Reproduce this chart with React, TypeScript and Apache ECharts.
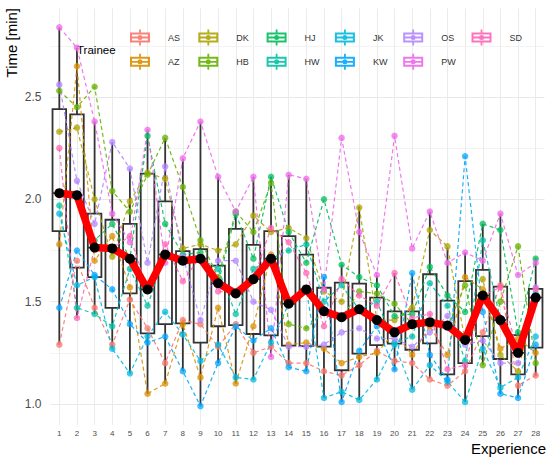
import React, { useEffect, useRef } from 'react';
import * as echarts from 'echarts';

const categories = ['1','2','3','4','5','6','7','8','9','10','11','12','13','14','15','16','17','18','19','20','21','22','23','24','25','26','27','28'];

const trainees = ['AS','AZ','DK','HB','HJ','HW','JK','KW','OS','PW','SD'];
const traineeColors = ['#F8766D','#DB8E00','#AEA200','#64B200','#00BD5C','#00C1A7','#00BADE','#00A6FF','#B385FF','#EF67EB','#FF63B6'];

const AS = [1.29,1.70,1.47,1.29,1.51,1.37,1.20,1.41,1.39,1.28,1.39,1.25,1.28,1.20,1.20,1.16,1.14,1.19,1.26,1.21,1.20,1.12,1.09,1.16,1.35,1.58,1.09,1.14];
const AZ = [1.78,2.65,1.70,1.82,1.57,1.05,1.10,1.39,1.13,1.47,1.10,1.38,1.73,1.29,1.30,1.27,1.20,1.23,1.25,1.35,1.24,1.38,1.24,1.62,1.56,1.27,1.32,1.25];
const DK = [2.33,2.35,2.00,1.72,1.99,2.13,2.10,1.76,1.78,1.75,1.78,1.92,1.84,1.86,1.81,1.55,1.50,1.96,1.41,1.41,1.47,1.85,1.77,1.31,1.61,1.24,1.16,1.52];
const HB = [2.53,2.45,2.55,2.04,1.94,2.12,2.30,2.06,1.80,1.62,1.94,1.84,2.08,1.39,1.37,1.45,1.42,1.55,1.54,1.49,1.39,1.40,1.38,1.58,1.19,1.50,1.77,1.20];
const HJ = [2.03,2.02,1.80,1.88,1.71,2.31,1.88,1.73,1.74,1.59,1.93,1.71,2.11,1.84,1.69,2.00,1.68,1.62,1.58,1.43,1.44,1.67,1.53,1.45,1.88,1.85,1.35,1.71];
const HW = [1.97,1.47,1.44,1.38,1.66,1.48,1.73,1.70,1.71,1.66,1.44,1.66,1.71,1.75,1.78,1.50,1.58,1.46,1.50,1.30,1.33,1.59,1.48,1.21,1.80,1.41,1.29,1.54];
const JK = [1.93,1.58,1.62,1.27,1.15,1.33,1.45,1.34,1.21,1.29,1.13,1.12,1.30,1.49,1.56,1.03,1.06,1.02,1.12,1.29,1.07,1.19,1.11,1.01,1.27,1.08,1.13,1.33];
const KW = [1.47,1.75,1.63,1.56,1.39,1.30,1.33,1.16,0.99,1.20,1.38,1.31,1.37,1.18,1.16,1.62,1.01,1.26,1.38,1.17,1.64,1.24,1.12,2.21,1.45,1.05,1.03,1.29];
const OS = [2.56,2.09,1.88,2.28,2.15,1.69,2.16,1.72,1.41,1.70,1.70,1.50,1.46,1.28,1.28,1.29,1.35,1.37,1.32,1.32,1.28,1.35,1.43,1.29,1.31,1.20,1.20,1.57];
const PW = [2.84,2.74,2.38,1.93,1.79,2.34,1.69,2.20,2.38,2.11,1.94,2.11,1.23,2.12,2.10,1.56,2.30,1.84,1.63,2.31,1.76,1.94,1.69,1.74,1.70,1.93,1.63,1.69];
const SD = [2.25,1.42,1.76,1.76,1.82,1.56,1.78,1.60,1.72,1.55,1.54,1.61,1.86,1.79,1.64,1.38,1.61,1.53,1.48,1.64,1.42,1.44,1.17,1.19,1.53,1.57,1.25,1.56];

const traineeValues = [AS, AZ, DK, HB, HJ, HW, JK, KW, OS, PW, SD];

const whiskerLow = [1.29,1.42,1.44,1.27,1.15,1.05,1.10,1.16,0.99,1.20,1.10,1.12,1.23,1.19,1.16,1.03,1.01,1.02,1.12,1.165,1.073,1.125,1.09,1.01,1.19,1.05,1.03,1.137];
const boxQ1 = [1.845,1.666,1.62,1.47,1.54,1.345,1.39,1.394,1.30,1.38,1.385,1.342,1.335,1.285,1.283,1.28,1.165,1.246,1.288,1.295,1.265,1.296,1.145,1.20,1.332,1.22,1.145,1.275];
const medians = [2.03,2.02,1.764,1.76,1.71,1.56,1.73,1.70,1.71,1.59,1.54,1.61,1.71,1.49,1.56,1.453,1.424,1.463,1.41,1.35,1.39,1.40,1.383,1.313,1.53,1.41,1.25,1.52];
const boxQ3 = [2.44,2.415,1.93,1.90,1.88,2.125,1.99,1.747,1.757,1.676,1.856,1.777,1.845,1.82,1.73,1.568,1.593,1.588,1.52,1.453,1.453,1.634,1.505,1.60,1.655,1.573,1.337,1.562];
const whiskerHigh = [2.84,2.74,2.38,2.28,2.147,2.34,2.30,2.197,2.38,2.11,1.94,2.11,2.11,2.12,2.10,1.62,1.68,1.964,1.627,1.64,1.64,1.94,1.765,1.74,1.88,1.93,1.35,1.713];

const FONT = '"Liberation Sans", Arial, Helvetica, sans-serif';
const BOX_ICON = 'path://M0 3H20V13H0Z M2 5V11H18V5Z M2 7.1H18V8.9H2Z M9.1 0H10.9V3H9.1Z M9.1 13H10.9V16H9.1Z M7.5 8A2.5 2.5 0 1 1 12.5 8A2.5 2.5 0 1 1 7.5 8Z';

function buildOption() {
  const boxData = categories.map((_, i) => [i, whiskerLow[i], boxQ1[i], medians[i], boxQ3[i], whiskerHigh[i]]);

  const boxSeries = {
    type: 'custom',
    name: 'box',
    silent: true,
    z: 2,
    data: boxData,
    encode: { x: 0, y: [1, 2, 3, 4, 5] },
    renderItem: (params: any, api: any) => {
      const i = api.value(0);
      const lo = api.coord([i, api.value(1)]);
      const q1 = api.coord([i, api.value(2)]);
      const md = api.coord([i, api.value(3)]);
      const q3 = api.coord([i, api.value(4)]);
      const hi = api.coord([i, api.value(5)]);
      const bw = api.size([1, 0])[0] * 0.77;
      const x = lo[0];
      const st = { stroke: '#333333', lineWidth: 1.8, fill: 'none' };
      return {
        type: 'group',
        children: [
          { type: 'line', shape: { x1: x, y1: hi[1], x2: x, y2: q3[1] }, style: st },
          { type: 'line', shape: { x1: x, y1: q1[1], x2: x, y2: lo[1] }, style: st },
          { type: 'rect', shape: { x: x - bw / 2, y: q3[1], width: bw, height: q1[1] - q3[1] }, style: { stroke: '#333333', lineWidth: 1.8, fill: 'rgba(255,255,255,0)' } },
          { type: 'line', shape: { x1: x - bw / 2, y1: md[1], x2: x + bw / 2, y2: md[1] }, style: st },
        ],
      };
    },
    markLine: {
      silent: true,
      z: 0,
      symbol: 'none',
      label: { show: false },
      lineStyle: { color: '#EBEBEB', width: 1, type: 'solid' },
      emphasis: { disabled: true },
      data: categories.map((c) => ({ xAxis: c })),
    },
  };

  const traineeSeries = trainees.map((t, k) => ({
    type: 'line',
    name: t,
    data: traineeValues[k],
    z: 3,
    silent: true,
    symbol: 'circle',
    symbolSize: 6.5,
    showSymbol: true,
    showAllSymbol: true,
    itemStyle: { color: traineeColors[k], opacity: 0.75, borderWidth: 0 },
    lineStyle: { color: traineeColors[k], width: 1.2, type: [4, 3], opacity: 0.9 },
    emphasis: { disabled: true },
  }));

  const medianSeries = {
    type: 'line',
    name: 'Median',
    data: medians,
    z: 10,
    silent: true,
    symbol: 'circle',
    symbolSize: 10,
    itemStyle: { color: '#000000', borderWidth: 0 },
    lineStyle: { color: '#FF0000', width: 7.5, cap: 'round', join: 'round' },
    emphasis: { disabled: true },
  };

  const legends = trainees.map((t, k) => {
    const col = Math.floor(k / 2);
    const row = k % 2;
    return {
      left: 130 + col * 68.3,
      top: row === 0 ? 29.5 : 53.8,
      padding: 0,
      itemWidth: 20,
      itemHeight: 16,
      selectedMode: false,
      textStyle: { fontSize: 9, color: '#333333', fontFamily: FONT, padding: [0, 0, 0, 13] },
      data: [{ name: t, icon: BOX_ICON, itemStyle: { color: traineeColors[k], opacity: 0.9, borderWidth: 0 } }],
    };
  });

  return {
    animation: false,
    backgroundColor: '#FFFFFF',
    textStyle: { fontFamily: FONT },
    grid: { left: 50.5, right: 5.5, top: 8.5, bottom: 37.1 },
    xAxis: {
      type: 'category',
      data: categories,
      boundaryGap: true,
      axisLine: { show: false },
      axisTick: { show: false },
      splitLine: { show: false },
      axisLabel: { color: '#4D4D4D', fontSize: 8, margin: 5, interval: 0, fontFamily: FONT },
    },
    yAxis: {
      type: 'value',
      min: 0.898,
      max: 2.932,
      splitNumber: 8,
      minInterval: 0.25,
      maxInterval: 0.25,
      axisLine: { show: false },
      axisTick: { show: false },
      axisLabel: {
        color: '#4D4D4D',
        fontSize: 12,
        margin: 9,
        fontFamily: FONT,
        showMinLabel: false,
        showMaxLabel: false,
        formatter: (v: number) => {
          const r = Math.round(v * 2) / 2;
          return Math.abs(v - r) < 1e-6 && v > 0.95 && v < 2.55 ? v.toFixed(1) : '';
        },
      },
      splitLine: {
        show: true,
        showMinLine: false,
        showMaxLine: false,
        lineStyle: { color: ['#E8E8E8', '#F3F3F3'], width: 1 },
      },
    },
    legend: legends,
    graphic: [
      { type: 'text', x: 77, y: 50, z: 1, style: { text: 'Trainee', fontSize: 11.5, fill: '#000000', fontFamily: FONT, align: 'left', verticalAlign: 'middle' } },
      { type: 'text', x: 11, y: 8, rotation: Math.PI / 2, style: { text: 'Time [min]', fontSize: 15, fill: '#000000', fontFamily: FONT, align: 'right', verticalAlign: 'middle' } },
      { type: 'text', x: 546, y: 448, style: { text: 'Experience', fontSize: 15, fill: '#000000', fontFamily: FONT, align: 'right', verticalAlign: 'middle' } },
    ],
    series: [boxSeries, ...traineeSeries, medianSeries],
  };
}

export default function App() {
  const ref = useRef<HTMLDivElement>(null);
  useEffect(() => {
    if (!ref.current) return;
    const chart = echarts.init(ref.current, undefined, { renderer: 'svg' });
    chart.setOption(buildOption() as any);
    return () => chart.dispose();
  }, []);
  return <div ref={ref} style={{ position: 'fixed', left: 0, top: 0, width: 550, height: 462 }} />;
}
